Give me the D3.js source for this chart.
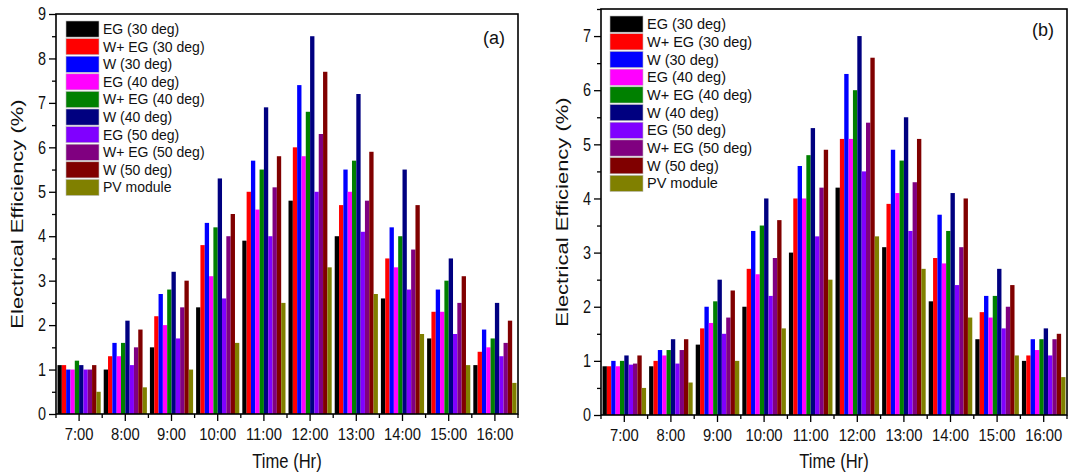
<!DOCTYPE html>
<html>
<head>
<meta charset="utf-8">
<script src="https://cdn.jsdelivr.net/npm/d3@7"></script>
<style>
  body { margin: 0; background: #fff; }
  svg { display: block; }
</style>
</head>
<body>
<div id="chart"></div>
<script>
const hours = ["7:00", "8:00", "9:00", "10:00", "11:00", "12:00", "13:00", "14:00", "15:00", "16:00"];

const seriesNames = ["EG (30 deg)", "W+ EG (30 deg)", "W (30 deg)", "EG (40 deg)", "W+ EG (40 deg)",
                     "W (40 deg)", "EG (50 deg)", "W+ EG (50 deg)", "W (50 deg)", "PV module"];
const seriesColors = ["#000000", "#ff0000", "#0000ff", "#ff00ff", "#008000",
                      "#000080", "#8000ff", "#800080", "#800000", "#808000"];

// one row per hour, values in seriesNames order
const effA = [
    [1.1, 1.1, 1.0, 1.0, 1.2, 1.1, 1.0, 1.0, 1.1, 0.5],
    [1.0, 1.3, 1.6, 1.3, 1.6, 2.1, 1.1, 1.5, 1.9, 0.6],
    [1.5, 2.2, 2.7, 2.0, 2.8, 3.2, 1.7, 2.4, 3.0, 1.0],
    [2.4, 3.8, 4.3, 3.1, 4.2, 5.3, 2.6, 4.0, 4.5, 1.6],
    [3.9, 5.0, 5.7, 4.6, 5.5, 6.9, 4.0, 5.1, 5.8, 2.5],
    [4.8, 6.0, 7.4, 5.8, 6.8, 8.5, 5.0, 6.3, 7.7, 3.3],
    [4.0, 4.7, 5.5, 5.0, 5.7, 7.2, 4.1, 4.8, 5.9, 2.7],
    [2.6, 3.5, 4.2, 3.3, 4.0, 5.5, 2.8, 3.7, 4.7, 1.8],
    [1.7, 2.3, 2.8, 2.3, 3.0, 3.5, 1.8, 2.5, 3.1, 1.1],
    [1.1, 1.4, 1.9, 1.5, 1.7, 2.5, 1.3, 1.6, 2.1, 0.7]
];

const effB = [
    [0.9, 0.9, 1.0, 0.9, 1.0, 1.1, 0.93, 0.95, 1.1, 0.5],
    [0.9, 1.0, 1.2, 1.1, 1.2, 1.4, 0.95, 1.2, 1.4, 0.6],
    [1.3, 1.6, 2.0, 1.7, 2.1, 2.5, 1.5, 1.8, 2.3, 1.0],
    [2.0, 2.7, 3.4, 2.6, 3.5, 4.0, 2.2, 2.9, 3.6, 1.6],
    [3.0, 4.0, 4.6, 4.0, 4.8, 5.3, 3.3, 4.2, 4.9, 2.5],
    [4.2, 5.1, 6.3, 5.1, 6.0, 7.0, 4.5, 5.4, 6.6, 3.3],
    [3.1, 3.9, 4.9, 4.1, 4.7, 5.5, 3.4, 4.3, 5.1, 2.7],
    [2.1, 2.9, 3.7, 2.8, 3.4, 4.1, 2.4, 3.1, 4.0, 1.8],
    [1.4, 1.9, 2.2, 1.8, 2.2, 2.7, 1.6, 2.0, 2.4, 1.1],
    [1.0, 1.1, 1.4, 1.2, 1.4, 1.6, 1.1, 1.4, 1.5, 0.7]
];

const yTicksA = [0, 1, 2, 3, 4, 5, 6, 7, 8, 9];
const yMinorA = [0.5, 1.5, 2.5, 3.5, 4.5, 5.5, 6.5, 7.5, 8.5];
const yTicksB = [0, 1, 2, 3, 4, 5, 6, 7];
const yMinorB = [0.5, 1.5, 2.5, 3.5, 4.5, 5.5, 6.5, 7.5];

const sans = "'Liberation Sans', Arial, sans-serif";

const svg = d3.select("#chart")
    .append("svg")
    .attr("width", 1069)
    .attr("height", 475);

function drawPanel(cfg) {
    const g = svg.append("g");

    const x0 = d3.scaleBand()
        .domain(hours)
        .range([cfg.left, cfg.right]);

    const x1 = d3.scaleBand()
        .domain(seriesNames)
        .range([0, x0.bandwidth()])
        .paddingOuter(0.35);

    const y = d3.scaleLinear()
        .domain([0, cfg.yMax])
        .range([cfg.bottom, cfg.top]);

    // bars
    const groups = g.selectAll(".hour")
        .data(cfg.data)
        .enter().append("g")
        .attr("class", "hour")
        .attr("transform", (d, i) => `translate(${x0(hours[i])},0)`);

    groups.selectAll("rect")
        .data(d => d.map((v, j) => ({name: seriesNames[j], value: v, color: seriesColors[j]})))
        .enter().append("rect")
        .attr("x", d => x1(d.name))
        .attr("y", d => y(d.value))
        .attr("width", x1.bandwidth())
        .attr("height", d => cfg.bottom - y(d.value))
        .attr("fill", d => d.color);

    // y axis (labels squeezed sideways like the source figure)
    const yAxis = g.append("g")
        .attr("transform", `translate(${cfg.left},0)`)
        .call(d3.axisLeft(y).tickValues(cfg.yTicks).tickSize(7).tickFormat(d3.format("d")));
    yAxis.select(".domain").remove();
    yAxis.selectAll("line").attr("stroke-width", 1.3);
    yAxis.selectAll("text")
        .attr("x", -12.5)
        .attr("transform", "scale(0.8,1)")
        .style("font-family", sans)
        .style("font-size", "18px")
        .attr("fill", "#111");

    const yMinor = g.append("g")
        .attr("transform", `translate(${cfg.left},0)`)
        .call(d3.axisLeft(y).tickValues(cfg.yMinor.filter(v => v <= cfg.yMax)).tickSize(4).tickFormat(""));
    yMinor.select(".domain").remove();
    yMinor.selectAll("line").attr("stroke-width", 1.3);

    // x axis
    const xAxis = g.append("g")
        .attr("transform", `translate(0,${cfg.bottom})`)
        .call(d3.axisBottom(x0).tickSize(7));
    xAxis.select(".domain").remove();
    xAxis.selectAll("line").attr("stroke-width", 1.3);
    xAxis.selectAll("text")
        .attr("y", 14)
        .attr("transform", "scale(0.87,1)")
        .style("font-family", sans)
        .style("font-size", "17px")
        .attr("fill", "#111");

    const edges = hours.map(h => x0(h)).concat([x0.range()[1]]);
    g.append("g")
        .selectAll("line")
        .data(edges)
        .enter().append("line")
        .attr("x1", d => d)
        .attr("x2", d => d)
        .attr("y1", cfg.bottom)
        .attr("y2", cfg.bottom + 4)
        .attr("stroke", "#000")
        .attr("stroke-width", 1.3);

    // frame
    g.append("rect")
        .attr("x", cfg.left)
        .attr("y", cfg.top)
        .attr("width", cfg.right - cfg.left)
        .attr("height", cfg.bottom - cfg.top)
        .attr("fill", "none")
        .attr("stroke", "#000")
        .attr("stroke-width", 1.6);

    // axis titles
    g.append("text")
        .attr("transform", `translate(${cfg.left - 39},${(cfg.top + cfg.bottom) / 2}) scale(0.75,1) rotate(-90)`)
        .attr("text-anchor", "middle")
        .attr("dy", "0.35em")
        .style("font-family", sans)
        .style("font-size", "22px")
        .attr("fill", "#111")
        .text("Electrical Efficiency (%)");

    g.append("text")
        .attr("transform", `translate(${(cfg.left + cfg.right) / 2},468) scale(0.85,1)`)
        .attr("text-anchor", "middle")
        .style("font-family", sans)
        .style("font-size", "19.5px")
        .attr("fill", "#111")
        .text("Time (Hr)");

    // panel tag
    g.append("text")
        .attr("x", cfg.right - 13)
        .attr("y", cfg.tagY)
        .attr("text-anchor", "end")
        .attr("dy", "0.35em")
        .style("font-family", sans)
        .style("font-size", "18px")
        .attr("fill", "#111")
        .text(cfg.tag);

    // legend
    const legend = g.append("g")
        .attr("transform", `translate(${cfg.legendX},${cfg.legendY})`);

    const rows = legend.selectAll(".row")
        .data(seriesNames)
        .enter().append("g")
        .attr("class", "row")
        .attr("transform", (d, i) => `translate(0,${i * cfg.legendStep})`);

    rows.append("rect")
        .attr("width", 33)
        .attr("height", cfg.legendStep - 1.5)
        .attr("fill", (d, i) => seriesColors[i])
        .attr("stroke", "#bbb")
        .attr("stroke-width", 0.6);

    rows.append("text")
        .attr("x", 37)
        .attr("y", (cfg.legendStep - 1.5) / 2)
        .attr("dy", "0.35em")
        .style("font-family", sans)
        .style("font-size", cfg.legendFont)
        .attr("fill", "#111")
        .text(d => d);
}

drawPanel({
    left: 56, right: 518, top: 14, bottom: 414,
    yMax: 9, yTicks: yTicksA, yMinor: yMinorA, data: effA,
    tag: "(a)", tagY: 38,
    legendX: 66, legendY: 21, legendStep: 17.6, legendFont: "14px"
});

drawPanel({
    left: 601, right: 1067, top: 9, bottom: 415,
    yMax: 7.5, yTicks: yTicksB, yMinor: yMinorB, data: effB,
    tag: "(b)", tagY: 30,
    legendX: 610, legendY: 16, legendStep: 17.7, legendFont: "14.5px"
});
</script>
</body>
</html>
